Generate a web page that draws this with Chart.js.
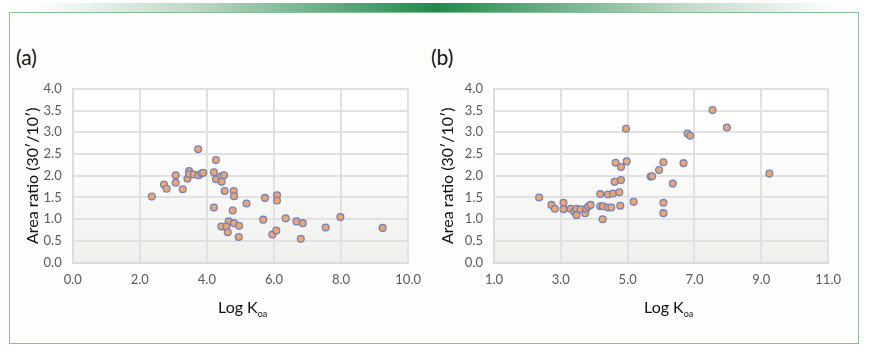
<!DOCTYPE html>
<html>
<head>
<meta charset="utf-8">
<script src="https://cdn.jsdelivr.net/npm/chart.js@4/dist/chart.umd.min.js"></script>
<style>
    body { margin: 0; background: #ffffff; font-family: Lato, "Open Sans", sans-serif; }
    #page { position: relative; width: 872px; height: 352px; overflow: hidden; }
    #topbar { position: absolute; left: 30px; top: 3px; width: 812px; height: 9px;
        background: linear-gradient(to right, rgba(255,255,255,0), rgba(150,190,160,0.6) 20%, #1f8a4c 50%, rgba(150,190,160,0.6) 80%, rgba(255,255,255,0)); }
    #frame { position: absolute; left: 9px; top: 12px; width: 848px; height: 330px;
        border: 1.5px solid #86c196; background: #fdfdfb; }
    .panel { position: absolute; font-size: 21px; color: #111; }
    .xtitle { position: absolute; font-size: 16px; color: #111; white-space: nowrap; }
    .xtitle sub { font-size: 9px; vertical-align: -4px; }
    canvas { position: absolute; }
</style>
</head>
<body>
<div id="page">
    <div id="topbar"></div>
    <div id="frame"></div>
    <div class="panel" style="left:16px; top:44px;">(a)</div>
    <div class="panel" style="left:431px; top:44px;">(b)</div>
    <canvas id="chartA" width="420" height="230" style="left:10px; top:70px;"></canvas>
    <canvas id="chartB" width="420" height="230" style="left:430px; top:70px;"></canvas>
    <div class="xtitle" style="left:218px; top:297px;">Log K<sub>oa</sub></div>
    <div class="xtitle" style="left:644px; top:297px;">Log K<sub>oa</sub></div>
</div>
<script>
// panel (a)
const aLogKoa = [2.36, 2.72, 2.80, 3.07, 3.07, 3.28, 3.42, 3.47, 3.47, 3.61, 3.74, 3.75, 3.84, 3.89,
    4.21, 4.27, 4.27, 4.43, 4.51, 4.44, 4.53, 4.80, 4.81, 5.18, 4.21, 4.77, 4.65, 4.43, 4.58, 4.81,
    4.96, 4.62, 4.95, 5.73, 6.09, 6.09, 5.68, 6.35, 6.67, 6.86, 5.95, 6.07, 6.80, 7.54, 7.98, 9.24];
const aRatio = [1.52, 1.80, 1.70, 2.01, 1.84, 1.69, 1.93, 2.11, 2.04, 2.03, 2.61, 2.01, 2.05, 2.07,
    2.08, 2.36, 1.92, 1.99, 2.01, 1.86, 1.65, 1.65, 1.53, 1.36, 1.27, 1.20, 0.95, 0.83, 0.83, 0.91,
    0.85, 0.70, 0.59, 1.49, 1.55, 1.43, 0.99, 1.02, 0.95, 0.91, 0.65, 0.74, 0.55, 0.81, 1.05, 0.80];

// panel (b)
const bLogKoa = [2.35, 2.72, 2.82, 3.08, 3.08, 3.29, 3.40, 3.47, 3.47, 3.59, 3.73, 3.76, 3.82, 3.89,
    4.18, 4.18, 4.26, 4.25, 4.41, 4.56, 4.41, 4.51, 4.61, 4.64, 4.75, 4.80, 4.80, 4.78, 4.95, 4.97,
    5.18, 5.69, 5.73, 5.94, 6.07, 6.07, 6.07, 6.35, 6.67, 6.79, 6.87, 7.54, 7.97, 9.24];
const bRatio = [1.50, 1.33, 1.24, 1.38, 1.23, 1.24, 1.17, 1.24, 1.09, 1.23, 1.14, 1.24, 1.29, 1.33,
    1.58, 1.30, 1.30, 1.00, 1.57, 1.59, 1.27, 1.27, 1.86, 2.30, 1.62, 2.20, 1.90, 1.31, 3.08, 2.33,
    1.40, 1.98, 1.99, 2.13, 2.31, 1.38, 1.14, 1.82, 2.29, 2.97, 2.92, 3.51, 3.11, 2.05];

const xRangeA = [0, 10];
const xRangeB = [1, 11];
const yRange = [0, 4];
const xStep = 2;
const yStep = 0.5;
const yTitle = 'Area ratio (30\u2032/10\u2032)';

const plotBg = {
    id: 'plotBg',
    beforeDraw(chart) {
        const { ctx, chartArea: a } = chart;
        const g = ctx.createLinearGradient(0, a.top, 0, a.bottom);
        g.addColorStop(0, '#ffffff');
        g.addColorStop(0.35, '#fefefe');
        g.addColorStop(1, '#efefec');
        ctx.save();
        ctx.fillStyle = g;
        ctx.fillRect(a.left, a.top, a.right - a.left, a.bottom - a.top);
        ctx.restore();
    }
};

function makeChart(id, xs, ys, xRange, padLeft, yWidth) {
    const pts = xs.map((x, i) => ({ x: x, y: ys[i] }));
    return new Chart(document.getElementById(id), {
        type: 'scatter',
        data: {
            datasets: [{
                data: pts,
                backgroundColor: '#f2a46b',
                borderColor: '#7183bd',
                borderWidth: 1.3,
                pointRadius: 3.4,
                pointHoverRadius: 3.4
            }]
        },
        options: {
            responsive: false,
            animation: false,
            layout: { padding: { left: padLeft, right: 11, top: 16.7, bottom: 0 } },
            plugins: { legend: { display: false }, tooltip: { enabled: false } },
            scales: {
                x: {
                    min: xRange[0], max: xRange[1],
                    afterFit: (s) => { s.height = 37.3; },
                    ticks: { stepSize: xStep, padding: 9, color: '#5a5a5a',
                        font: { family: 'Lato', size: 13 },
                        callback: (v) => Number(v).toFixed(1) },
                    grid: { color: '#e1e1e1', lineWidth: 2, drawTicks: false },
                    border: { color: '#dcdcdc', width: 2 }
                },
                y: {
                    min: yRange[0], max: yRange[1],
                    afterFit: (s) => { s.width = yWidth; },
                    ticks: { stepSize: yStep, padding: 11, color: '#5a5a5a',
                        font: { family: 'Lato', size: 13 },
                        callback: (v) => Number(v).toFixed(1) },
                    grid: { color: '#e1e1e1', lineWidth: 2, drawTicks: false },
                    border: { color: '#dcdcdc', width: 2 },
                    title: { display: true, text: yTitle, color: '#111',
                        font: { family: 'Lato', size: 16 }, padding: { top: 4, bottom: 4 } }
                }
            }
        },
        plugins: [plotBg]
    });
}

document.addEventListener('DOMContentLoaded', function() {
    makeChart('chartA', aLogKoa, aRatio, xRangeA, 9, 53.7);
    makeChart('chartB', bLogKoa, bRatio, xRangeB, 4.3, 59.7);
});
</script>
</body>
</html>
